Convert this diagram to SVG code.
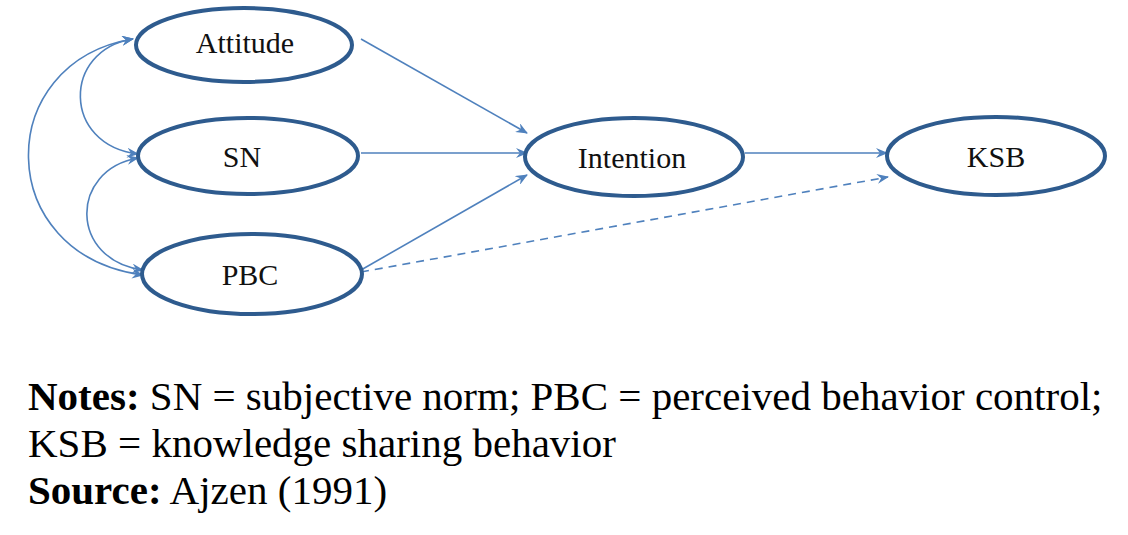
<svg xmlns="http://www.w3.org/2000/svg" width="1128" height="535" viewBox="0 0 1128 535">
<style>
.node{fill:#fff;stroke:#2E5B8E;stroke-width:4}
.lbl{font-size:30px;fill:#111;text-anchor:middle}
.edge{fill:none;stroke:#4F81BD;stroke-width:1.6}
.dash{stroke-dasharray:8,6}
.note{font-size:41px;fill:#000}
</style>
<defs>
<marker id="ah" viewBox="0 0 12 10" refX="11" refY="5" markerWidth="12" markerHeight="10" markerUnits="userSpaceOnUse" orient="auto-start-reverse">
<path d="M0,0 L12,5 L0,10 L4,5 Z" fill="#4F81BD"/>
</marker>
</defs>
<rect width="1128" height="535" fill="#fff"/>
<g id="connectors">
<path class="edge" d="M361,39 L527,133" marker-end="url(#ah)"/>
<path class="edge" d="M361,153 L527,153" marker-end="url(#ah)"/>
<path class="edge" d="M361,270 L527,175" marker-end="url(#ah)"/>
<path class="edge" d="M745,153 L887,153" marker-end="url(#ah)"/>
<path class="edge dash" d="M361,272 L888,177" marker-end="url(#ah)"/>
<path class="edge" d="M133,39 C62,50 62,145 138,154" marker-start="url(#ah)" marker-end="url(#ah)"/>
<path class="edge" d="M138,158 C69,170 69,260 143,270" marker-start="url(#ah)" marker-end="url(#ah)"/>
<path class="edge" d="M133,39 C-8,62 -8,255 143,275" marker-start="url(#ah)" marker-end="url(#ah)"/>
</g>
<g font-family="Liberation Serif, Times New Roman, serif">
<g id="attitude"><ellipse class="node" cx="244" cy="45" rx="108" ry="37"/><text class="lbl" x="245" y="53">Attitude</text></g>
<g id="sn"><ellipse class="node" cx="248" cy="156" rx="110" ry="38"/><text class="lbl" x="242" y="167">SN</text></g>
<g id="pbc"><ellipse class="node" cx="252" cy="274" rx="110" ry="40"/><text class="lbl" x="250" y="285">PBC</text></g>
<g id="intention"><ellipse class="node" cx="634" cy="157" rx="109" ry="39"/><text class="lbl" x="632" y="168">Intention</text></g>
<g id="ksb"><ellipse class="node" cx="996" cy="156" rx="109" ry="39"/><text class="lbl" x="996" y="167">KSB</text></g>
<g id="notes">
<text class="note" x="28" y="410"><tspan font-weight="bold">Notes:</tspan> SN = subjective norm; PBC = perceived behavior control;</text>
<text class="note" x="28" y="457">KSB = knowledge sharing behavior</text>
<text class="note" x="28" y="504"><tspan font-weight="bold">Source:</tspan> Ajzen (1991)</text>
</g>
</g>
</svg>
